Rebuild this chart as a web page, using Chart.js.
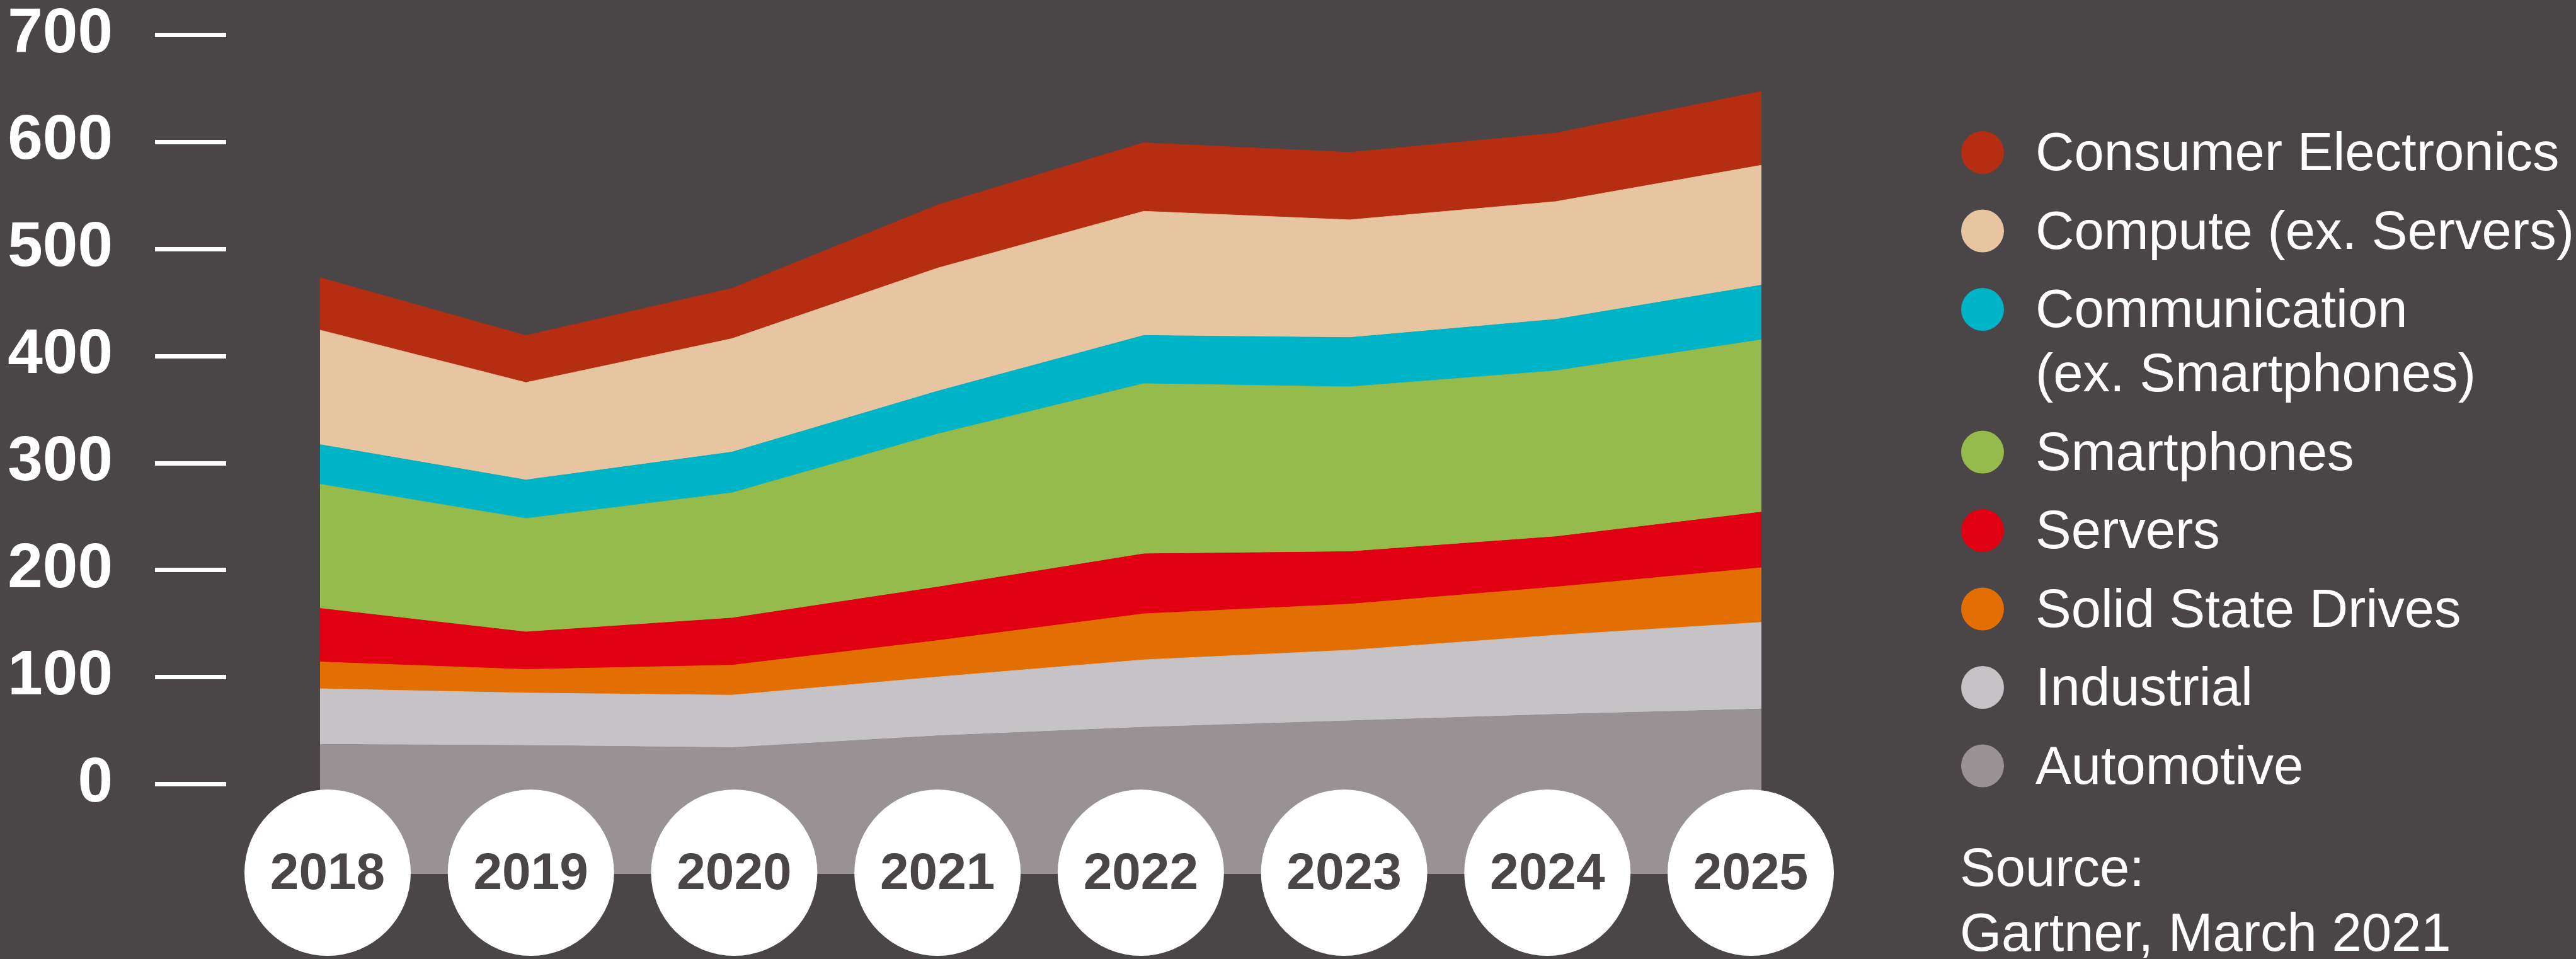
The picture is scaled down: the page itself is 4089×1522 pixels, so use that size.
<!DOCTYPE html>
<html>
<head>
<meta charset="utf-8">
<title>Semiconductor revenue by application</title>
<script src="https://cdn.jsdelivr.net/npm/chart.js@4.4.1/dist/chart.umd.min.js"></script>
<style>
  html, body { margin: 0; padding: 0; background: #4a4546; }
  canvas { display: block; }
</style>
</head>
<body>
<canvas id="areaChart" width="4089" height="1522"></canvas>
<script>
// values (stacked from bottom to top)
const years = ['2018', '2019', '2020', '2021', '2022', '2023', '2024', '2025'];
const automotive = [37, 36, 34, 45, 53, 59, 65, 70];
const industrial = [52, 49, 49, 55, 63, 66, 74, 81];
const solidStateDrives = [25, 22, 28, 34, 43, 43, 45, 51];
const servers = [50, 35, 44, 50, 56, 49, 47, 52];
const smartphones = [116, 106, 117, 143, 159, 154, 155, 161];
const communication = [37, 36, 38, 40, 45, 46, 48, 51];
const compute = [107, 91, 106, 115, 116, 110, 110, 112];
const consumerElectronics = [49, 44, 47, 59, 64, 63, 64, 69];
const yTicks = [0, 100, 200, 300, 400, 500, 600, 700];

const bg = '#4a4546';
const fontFamily = '"Liberation Sans", Arial, Helvetica, sans-serif';

const series = [
  { label: 'Automotive', data: automotive, color: '#989295' },
  { label: 'Industrial', data: industrial, color: '#c5c3c6' },
  { label: 'Solid State Drives', data: solidStateDrives, color: '#e36f03' },
  { label: 'Servers', data: servers, color: '#e10012' },
  { label: 'Smartphones', data: smartphones, color: '#95bb4d' },
  { label: ['Communication', '(ex. Smartphones)'], data: communication, color: '#00b4c8' },
  { label: 'Compute (ex. Servers)', data: compute, color: '#e6c5a0' },
  { label: 'Consumer Electronics', data: consumerElectronics, color: '#b52e12' }
];

// white dashes next to the y labels
const tickDashes = {
  id: 'tickDashes',
  afterDraw(chart) {
    const { ctx, chartArea, scales: { y } } = chart;
    ctx.save();
    ctx.strokeStyle = '#ffffff';
    ctx.lineWidth = 7;
    y.ticks.forEach(t => {
      const py = Math.round(y.getPixelForValue(t.value)) + 0.5;
      ctx.beginPath();
      ctx.moveTo(chartArea.left - 262, py);
      ctx.lineTo(chartArea.left - 149, py);
      ctx.stroke();
    });
    ctx.restore();
  }
};

// year labels in white discs along the bottom
const yearDiscs = {
  id: 'yearDiscs',
  afterDraw(chart) {
    const { ctx, chartArea, scales: { x } } = chart;
    const n = years.length;
    const first = x.getPixelForValue(0) + 12;
    const last = x.getPixelForValue(n - 1) - 17;
    const cy = chartArea.bottom - 2;
    ctx.save();
    years.forEach((yr, i) => {
      const cx = first + (last - first) * i / (n - 1);
      ctx.beginPath();
      ctx.arc(cx, cy, 132, 0, Math.PI * 2);
      ctx.fillStyle = '#ffffff';
      ctx.fill();
      ctx.fillStyle = bg;
      ctx.font = 'bold 82px ' + fontFamily;
      ctx.textAlign = 'center';
      ctx.textBaseline = 'middle';
      ctx.fillText(yr, cx, cy + 3);
    });
    ctx.restore();
  }
};

// legend on the right, top series first
const sideLegend = {
  id: 'sideLegend',
  afterDraw(chart) {
    const ctx = chart.ctx;
    const markerX = 3147;
    const textX = 3231;
    let baseline = 270;
    ctx.save();
    ctx.font = '85px ' + fontFamily;
    ctx.textAlign = 'left';
    ctx.textBaseline = 'alphabetic';
    series.slice().reverse().forEach(s => {
      const lines = Array.isArray(s.label) ? s.label : [s.label];
      ctx.beginPath();
      ctx.arc(markerX, baseline - 28, 34, 0, Math.PI * 2);
      ctx.fillStyle = s.color;
      ctx.fill();
      ctx.fillStyle = '#ffffff';
      lines.forEach((line, k) => {
        ctx.fillText(line, textX, baseline + k * 102);
      });
      baseline += 124.5 + (lines.length - 1) * 102;
    });
    ctx.fillStyle = '#ffffff';
    ctx.fillText('Source:', 3111, 1406);
    ctx.fillText('Gartner, March 2021', 3111, 1509);
    ctx.restore();
  }
};

const datasets = series.map((s, i) => ({
  label: Array.isArray(s.label) ? s.label.join(' ') : s.label,
  data: s.data,
  backgroundColor: s.color,
  borderColor: s.color,
  borderWidth: 1,
  pointRadius: 0,
  tension: 0,
  fill: i === 0 ? 'start' : '-1'
}));

new Chart(document.getElementById('areaChart'), {
  type: 'line',
  data: { labels: years, datasets },
  options: {
    responsive: false,
    animation: false,
    devicePixelRatio: 1,
    layout: { padding: { top: 55, bottom: 135, left: 0, right: 1293 } },
    plugins: {
      legend: { display: false },
      tooltip: { enabled: false }
    },
    scales: {
      x: {
        display: false,
        offset: false
      },
      y: {
        stacked: true,
        min: -84,
        max: 700,
        grid: { display: false, drawTicks: false },
        border: { display: false },
        afterBuildTicks: scale => { scale.ticks = yTicks.map(v => ({ value: v })); },
        afterFit: scale => {
          scale.width = 508;
          scale.paddingTop = 0;
          scale.paddingBottom = 0;
        },
        ticks: {
          padding: 329,
          color: '#ffffff',
          font: { family: fontFamily, size: 100, weight: 'bold', lineHeight: 1 }
        }
      }
    }
  },
  plugins: [tickDashes, yearDiscs, sideLegend]
});
</script>
</body>
</html>
